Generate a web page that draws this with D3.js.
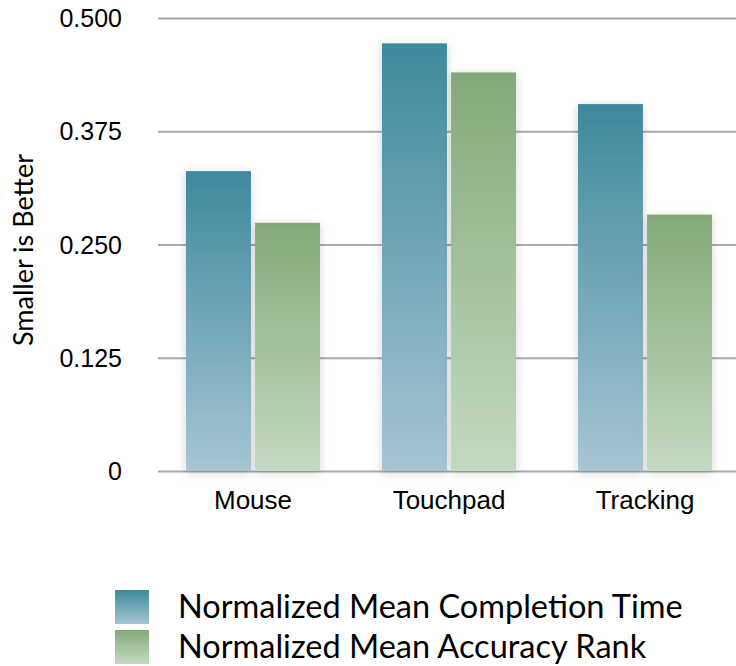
<!DOCTYPE html>
<html>
<head>
<meta charset="utf-8">
<script src="https://cdn.jsdelivr.net/npm/d3@7"></script>
<style>
  html, body { margin: 0; padding: 0; background: #fff; }
  svg { display: block; font-family: "Gill Sans", Lato, "Open Sans", sans-serif; }
</style>
</head>
<body>
<svg id="chart" width="736" height="666"></svg>
<script>
// Input devices compared on two normalized measures (smaller is better)
const categories = ["Mouse", "Touchpad", "Tracking"];
const seriesNames = ["Normalized Mean Completion Time", "Normalized Mean Accuracy Rank"];
const completionTime = [0.331, 0.472, 0.405];
const accuracyRank = [0.274, 0.440, 0.283];
const yTicks = [0, 0.125, 0.25, 0.375, 0.5];
const yTickLabels = ["0", "0.125", "0.250", "0.375", "0.500"];
const yTitle = "Smaller is Better";

const seriesValues = [completionTime, accuracyRank];
const palette = [
  { top: "#3e899e", bottom: "#a6c6d2" },
  { top: "#84a979", bottom: "#c4d9c1" }
];

const svg = d3.select("#chart");
const plotLeft = 158, plotRight = 736;

const y = d3.scaleLinear().domain([0, 0.5]).range([471, 18]);
const x0 = d3.scaleBand().domain(categories).range([155, 743]).paddingInner(0.316).paddingOuter(0.158);
const x1 = d3.scaleBand().domain(d3.range(seriesNames.length)).range([0, x0.bandwidth()]).paddingInner(0.06);

const defs = svg.append("defs");
palette.forEach((c, i) => {
  const g = defs.append("linearGradient").attr("id", "grad" + i)
    .attr("x1", 0).attr("y1", 0).attr("x2", 0).attr("y2", 1);
  g.append("stop").attr("offset", "0%").attr("stop-color", c.top);
  g.append("stop").attr("offset", "100%").attr("stop-color", c.bottom);
});
const shadow = defs.append("filter").attr("id", "shadow")
  .attr("x", "-30%").attr("y", "-10%").attr("width", "160%").attr("height", "120%");
shadow.append("feDropShadow").attr("dx", 0).attr("dy", 2)
  .attr("stdDeviation", 4).attr("flood-color", "#000").attr("flood-opacity", 0.18);

// Gridlines drawn with a left axis
const yAxis = d3.axisLeft(y).tickValues(yTicks)
  .tickSize(-(plotRight - plotLeft)).tickPadding(36)
  .tickFormat((d, i) => yTickLabels[i]);
const yg = svg.append("g").attr("transform", `translate(${plotLeft},0)`)
  .call(yAxis);
yg.select(".domain").remove();
yg.selectAll(".tick line").attr("stroke", "#aaaaaa").attr("stroke-width", 2);
yg.selectAll(".tick text").attr("font-size", 25).attr("fill", "#000").attr("dy", "0.34em");

// Bars
const groups = svg.append("g").selectAll("g").data(categories).join("g")
  .attr("transform", d => `translate(${x0(d)},0)`);
groups.selectAll("rect")
  .data((d, ci) => seriesValues.map((vals, si) => ({ si, v: vals[ci] })))
  .join("rect")
  .attr("x", d => x1(d.si))
  .attr("width", x1.bandwidth())
  .attr("y", d => y(d.v))
  .attr("height", d => y(0) - y(d.v))
  .attr("fill", d => `url(#grad${d.si})`)
  .attr("filter", "url(#shadow)");

// Category labels
const xAxis = d3.axisBottom(x0).tickSize(0).tickPadding(20);
const xg = svg.append("g").attr("transform", `translate(0,${y(0)})`).call(xAxis);
xg.select(".domain").remove();
xg.selectAll(".tick text").attr("font-size", 26).attr("fill", "#000");

// Y axis title
svg.append("text")
  .attr("transform", "translate(33,250) rotate(-90)")
  .attr("text-anchor", "middle")
  .attr("font-size", 27)
  .attr("fill", "#000")
  .text(yTitle);

// Legend
const legend = svg.append("g").attr("transform", "translate(115,590)");
const items = legend.selectAll("g").data(seriesNames).join("g")
  .attr("transform", (d, i) => `translate(0,${i * 40})`);
items.append("rect").attr("width", 34).attr("height", 34)
  .attr("fill", (d, i) => `url(#grad${i})`);
items.append("text").attr("x", 63).attr("y", 17).attr("dy", "0.35em")
  .attr("font-size", 32.5).attr("fill", "#000").text(d => d);
</script>
</body>
</html>
